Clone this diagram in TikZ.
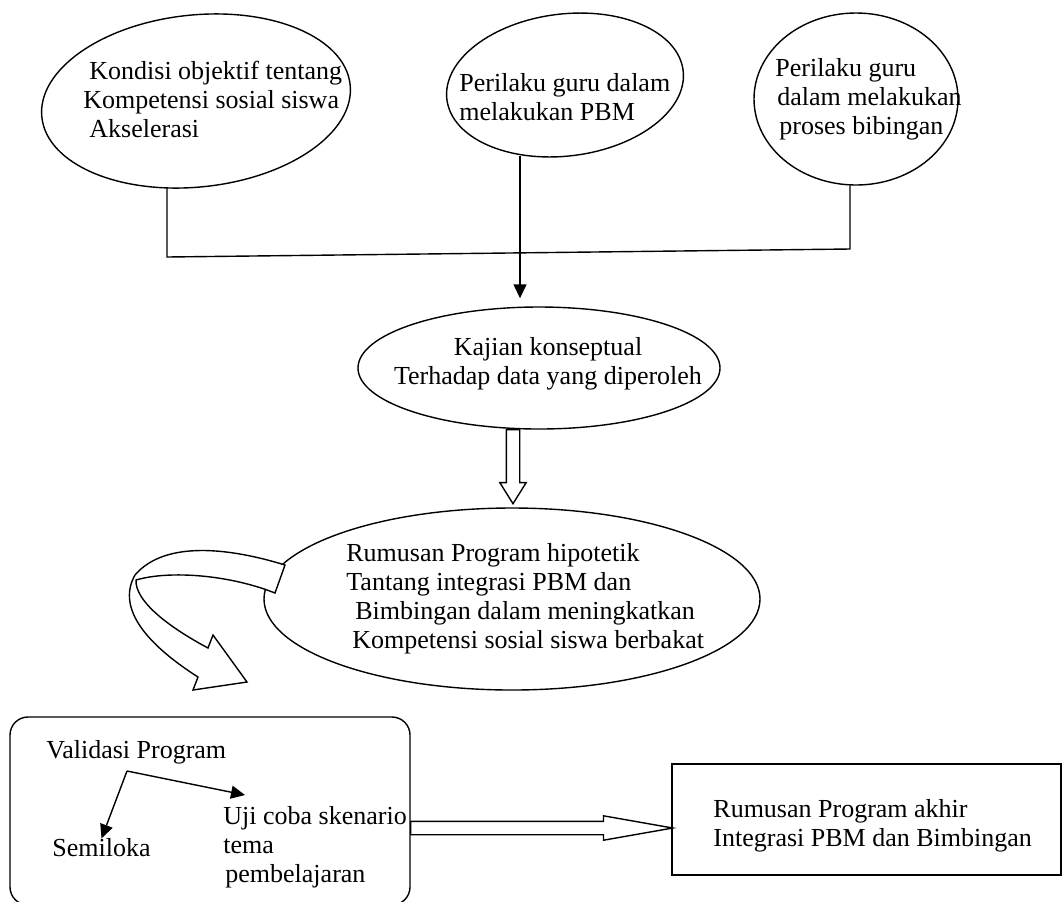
\documentclass[tikz,border=0pt]{standalone}
\usepackage{fontspec}
\setmainfont{Liberation Serif}
\usetikzlibrary{arrows.meta, shapes.geometric, shapes.arrows}

\begin{document}
\begin{tikzpicture}[
  x=0.5pt, y=-0.5pt,
  every node/.style={font=\fontsize{13}{14.5}\selectfont},
  bubble/.style={draw, ellipse, line width=0.7pt, inner sep=0pt},
  txt/.style={inner sep=0pt, align=left, anchor=west},
  link/.style={line width=0.7pt},
  flow/.style={line width=0.7pt, -{Triangle[length=7pt, width=6.5pt]}},
  fat/.style={draw, fill=white, single arrow, line width=0.7pt, inner sep=3pt,
              single arrow head indent=0pt, anchor=tail},
]
\useasboundingbox (0,0) rectangle (1064,901);
\clip (0,0) rectangle (1064,901);

\node[bubble, minimum width=155pt, minimum height=86pt, rotate=6] (kondisi) at (196,101) {};
\node[bubble, minimum width=119pt, minimum height=71pt, rotate=7] (pbm)     at (565,85)  {};
\node[bubble, minimum width=102pt, minimum height=86pt]           (bimb)    at (856,99)  {};
\node[txt] (kondisi_t) at (83,99)  {\hspace*{3pt}Kondisi objektif tentang\\Kompetensi sosial siswa\\\hspace*{3pt}Akselerasi};
\node[txt] (pbm_t)     at (459,97) {Perilaku guru dalam\\melakukan PBM};
\node[txt] (bimb_t)    at (775,99) {Perilaku guru\\\hspace*{1pt}dalam melakukan\\\hspace*{2pt}proses bibingan};

\node[bubble, minimum width=181pt, minimum height=61pt] (kajian) at (539,368) {};
\node[inner sep=0pt, align=center] (kajian_t) at (548,364) {Kajian konseptual\\Terhadap data yang diperoleh};

\node[bubble, minimum width=248pt, minimum height=91pt] (hipotetik) at (512,599) {};
\node[txt] (hipotetik_t) at (346,599) {Rumusan Program hipotetik\\Tantang integrasi PBM dan\\\hspace*{4.5pt}Bimbingan dalam meningkatkan\\\hspace*{3pt}Kompetensi sosial siswa berbakat};

\node[draw, rounded corners=9pt, line width=0.7pt, minimum width=200pt, minimum height=94pt] (validasi) at (210,811) {};
\node[txt] (validasi_t) at (46,752)  {Validasi Program};
\node[txt] (semiloka)   at (52,848)  {Semiloka};
\node[txt] (ujicoba)    at (223,847) {Uji coba skenario\\tema\\\hspace*{1pt}pembelajaran};

\node[draw, line width=0.7pt, minimum width=194.5pt, minimum height=55.5pt, inner sep=0pt] (akhir) at (866.5,819.5) {};
\node[txt] (akhir_t) at (713,826) {Rumusan Program akhir\\Integrasi PBM dan Bimbingan};

\node[fat, shape border rotate=270, minimum height=37pt, single arrow head extend=3.25pt,
      single arrow tip angle=64] (turun) at (513,429) {};
\node[fat, minimum height=131pt, single arrow head extend=2.75pt,
      single arrow tip angle=20] (lanjut) at (410,828) {};

\coordinate (kiri)   at (167,257);
\coordinate (kanan)  at (850,249);
\coordinate (tengah) at (520,253);
\coordinate (pecah)  at (127,771);
\coordinate (ujitop) at (245,795);

\draw[link] (kondisi.south -| kiri) -- (kiri) -- (kanan) -- (bimb.south -| kanan);
\draw[flow, shorten >=4pt] (pbm.south -| tengah) -- (tengah) -- (tengah |- kajian.north);
\draw[flow] (pecah) -- (semiloka.north);
\draw[flow] (pecah) -- (ujitop);

\draw[line width=0.7pt, fill=white] (285,565) .. controls (230,548) and (165,540) .. (135,575)
  .. controls (118,605) and (140,640) .. (198,677) -- (193,690) -- (247,682) -- (213,635)
  -- (208,648) .. controls (165,625) and (135,600) .. (136,580)
  .. controls (170,570) and (230,575) .. (275,593) -- cycle;

\end{tikzpicture}
\end{document}
